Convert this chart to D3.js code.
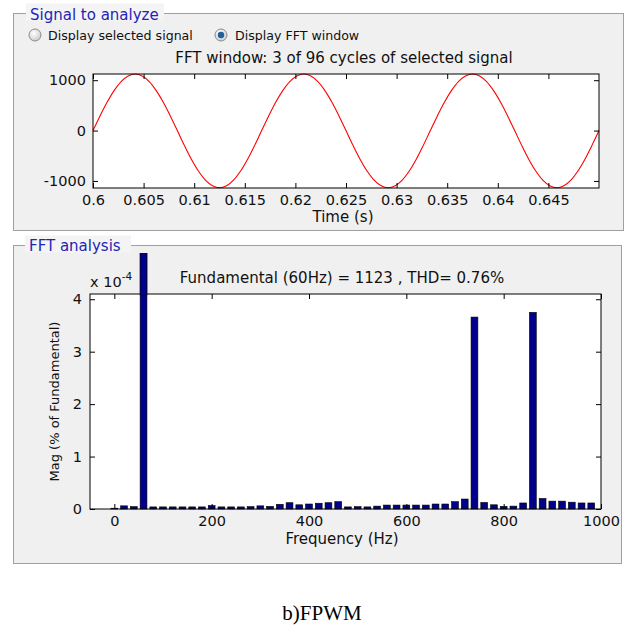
<!DOCTYPE html>
<html>
<head>
<meta charset="utf-8">
<script src="https://cdn.jsdelivr.net/npm/d3@7"></script>
<style>
  html, body { margin: 0; padding: 0; background: #ffffff; }
  svg { display: block; }
</style>
</head>
<body>
<svg id="chart" width="626" height="625"></svg>
<script>
// ---------------- DATA ----------------
// Top panel: FFT window signal (3 cycles, 60 Hz), samples every 1/1440 s starting at 0.6 s
const signalStart = 0.6;
const signalStep = 1 / 1440;
const signalValues = [
  0, 291, 562, 794, 973, 1085, 1123, 1085, 973, 794, 562, 291,
  0, -294, -568, -803, -983, -1096, -1135, -1096, -983, -803, -568, -294,
  0, 291, 562, 794, 973, 1085, 1123, 1085, 973, 794, 562, 291,
  0, -294, -568, -803, -983, -1096, -1135, -1096, -983, -803, -568, -294,
  0, 291, 562, 794, 973, 1085, 1123, 1085, 973, 794, 562, 291,
  0, -294, -568, -803, -983, -1096, -1135, -1096, -983, -803, -568, -294,
  0
];
const timeTicks = [0.6, 0.605, 0.61, 0.615, 0.62, 0.625, 0.63, 0.635, 0.64, 0.645];
const timeTickLabels = ["0.6", "0.605", "0.61", "0.615", "0.62", "0.625", "0.63", "0.635", "0.64", "0.645"];
const signalTicks = [-1000, 0, 1000];
const signalTickLabels = ["-1000", "0", "1000"];

// Bottom panel: FFT spectrum (x 10^-4, % of fundamental)
const freqs = [
  0, 20, 40, 60, 80, 100, 120, 140, 160, 180,
  200, 220, 240, 260, 280, 300, 320, 340, 360, 380,
  400, 420, 440, 460, 480, 500, 520, 540, 560, 580,
  600, 620, 640, 660, 680, 700, 720, 740, 760, 780,
  800, 820, 840, 860, 880, 900, 920, 940, 960, 980
];
const mags = [
  0.015, 0.06, 0.045, 4.87, 0.04, 0.04, 0.04, 0.04, 0.04, 0.04,
  0.065, 0.04, 0.04, 0.04, 0.045, 0.06, 0.05, 0.09, 0.12, 0.08,
  0.095, 0.11, 0.12, 0.14, 0.04, 0.045, 0.04, 0.055, 0.075, 0.075,
  0.075, 0.075, 0.075, 0.095, 0.095, 0.14, 0.19, 3.66, 0.125, 0.08,
  0.05, 0.055, 0.115, 3.75, 0.2, 0.15, 0.15, 0.13, 0.115, 0.115
];
const freqTicks = [0, 200, 400, 600, 800, 1000];
const freqTickLabels = ["0", "200", "400", "600", "800", "1000"];
const magTicks = [0, 1, 2, 3, 4];
const magTickLabels = ["0", "1", "2", "3", "4"];

const texts = {
  panel1: "Signal to analyze",
  radio1: "Display selected signal",
  radio2: "Display FFT window",
  title1: "FFT window: 3 of 96 cycles of selected signal",
  xlabel1: "Time (s)",
  panel2: "FFT analysis",
  title2: "Fundamental (60Hz) = 1123 , THD= 0.76%",
  xlabel2: "Frequency (Hz)",
  ylabel2: "Mag (% of Fundamental)",
  caption: "b)FPWM"
};

// ---------------- DRAW ----------------
const svg = d3.select("#chart");
const FONT = "DejaVu Sans, Verdana, sans-serif";
const BLUE = "#1f24b4";

// Panels
function panel(x0, y0, x1, y1, label, lx, lw, ly) {
  svg.append("rect").attr("x", x0).attr("y", y0).attr("width", x1 - x0).attr("height", y1 - y0)
    .attr("fill", "#f0f0f0").attr("stroke", "#a0a0a0").attr("stroke-width", 1);
  svg.append("rect").attr("x", lx - 4).attr("y", y0 - 10).attr("width", lw + 8).attr("height", 17)
    .attr("fill", "#f4f4f4");
  svg.append("text").attr("x", lx).attr("y", ly).attr("fill", BLUE)
    .attr("font-family", FONT).attr("font-size", 15).text(label);
}
panel(13.5, 13.5, 623.5, 230.5, texts.panel1, 30, 130, 20);
panel(13.5, 245.5, 621.5, 563.5, texts.panel2, 29, 98, 251);

// Radio buttons
const defs = svg.append("defs");
const rg = defs.append("radialGradient").attr("id", "rg").attr("cx", "40%").attr("cy", "35%").attr("r", "70%");
rg.append("stop").attr("offset", "0%").attr("stop-color", "#ffffff");
rg.append("stop").attr("offset", "100%").attr("stop-color", "#c8c8c8");
function radio(cx, cy, checked, label, tx) {
  svg.append("circle").attr("cx", cx).attr("cy", cy).attr("r", 6)
    .attr("fill", "url(#rg)").attr("stroke", "#8c8c8c").attr("stroke-width", 1);
  if (checked) {
    svg.append("circle").attr("cx", cx).attr("cy", cy).attr("r", 3.2).attr("fill", "#1f5f9a");
  }
  svg.append("text").attr("x", tx).attr("y", cy + 4.5).attr("fill", "#111")
    .attr("font-family", FONT).attr("font-size", 12.6).text(label);
}
radio(35, 35, false, texts.radio1, 48);
radio(221, 35, true, texts.radio2, 235);

// ---------- Top plot ----------
const p1 = { l: 93, r: 599, t: 74, b: 188 };
const x1 = d3.scaleLinear().domain([0.6, 0.65]).range([p1.l, p1.r]);
const y1 = d3.scaleLinear().domain([-1140, 1123]).range([p1.b, p1.t]);

svg.append("rect").attr("x", p1.l).attr("y", p1.t).attr("width", p1.r - p1.l).attr("height", p1.b - p1.t)
  .attr("fill", "#fff");

const line1 = d3.line()
  .x((d, i) => x1(signalStart + i * signalStep))
  .y(d => y1(d))
  .curve(d3.curveCatmullRom);
svg.append("path").datum(signalValues).attr("d", line1)
  .attr("fill", "none").attr("stroke", "#ff0000").attr("stroke-width", 1.1);

function styleAxis(g, size) {
  g.select(".domain").remove();
  g.selectAll(".tick line").attr("stroke", "#000");
  g.selectAll(".tick text").attr("font-family", FONT).attr("font-size", size).attr("fill", "#111");
}

// bottom x axis
svg.append("g").attr("transform", `translate(0,${p1.b})`)
  .call(d3.axisBottom(x1).tickValues(timeTicks).tickFormat((d, i) => timeTickLabels[i])
    .tickSizeInner(-5).tickSizeOuter(0).tickPadding(7))
  .call(g => styleAxis(g, 14.5));
// top x ticks
svg.append("g").attr("transform", `translate(0,${p1.t})`)
  .call(d3.axisTop(x1).tickValues(timeTicks).tickFormat("").tickSizeInner(-5).tickSizeOuter(0))
  .call(g => styleAxis(g, 14.5));
// left y
svg.append("g").attr("transform", `translate(${p1.l},0)`)
  .call(d3.axisLeft(y1).tickValues(signalTicks).tickFormat((d, i) => signalTickLabels[i])
    .tickSizeInner(-5).tickSizeOuter(0).tickPadding(7))
  .call(g => styleAxis(g, 14.5));
// right y
svg.append("g").attr("transform", `translate(${p1.r},0)`)
  .call(d3.axisRight(y1).tickValues(signalTicks).tickFormat("").tickSizeInner(-5).tickSizeOuter(0))
  .call(g => styleAxis(g, 14.5));

svg.append("rect").attr("x", p1.l).attr("y", p1.t).attr("width", p1.r - p1.l).attr("height", p1.b - p1.t)
  .attr("fill", "none").attr("stroke", "#000").attr("stroke-width", 1);

svg.append("text").attr("x", (p1.l + p1.r) / 2 - 2).attr("y", 63).attr("text-anchor", "middle")
  .attr("font-family", FONT).attr("font-size", 15).attr("fill", "#111").text(texts.title1);
svg.append("text").attr("x", (p1.l + p1.r) / 2 - 3).attr("y", 222).attr("text-anchor", "middle")
  .attr("font-family", FONT).attr("font-size", 15).attr("fill", "#111").text(texts.xlabel1);

// ---------- Bottom plot ----------
const p2 = { l: 90, r: 601, t: 294, b: 509 };
const x2 = d3.scaleLinear().domain([-50, 1000]).range([p2.l, p2.r]);
const y2 = d3.scaleLinear().domain([0, 4.1]).range([p2.b, p2.t]);

svg.append("rect").attr("x", p2.l).attr("y", p2.t).attr("width", p2.r - p2.l).attr("height", p2.b - p2.t)
  .attr("fill", "#fff");

const bw = x2(14) - x2(0);
svg.append("g").selectAll("rect").data(freqs).join("rect")
  .attr("x", d => x2(d) - bw / 2)
  .attr("width", bw)
  .attr("y", (d, i) => y2(mags[i]))
  .attr("height", (d, i) => y2(0) - y2(mags[i]))
  .attr("fill", "#00008c").attr("stroke", "#000").attr("stroke-width", 0.6);

svg.append("g").attr("transform", `translate(0,${p2.b})`)
  .call(d3.axisBottom(x2).tickValues(freqTicks).tickFormat((d, i) => freqTickLabels[i])
    .tickSizeInner(-5).tickSizeOuter(0).tickPadding(7))
  .call(g => styleAxis(g, 14.5));
svg.append("g").attr("transform", `translate(0,${p2.t})`)
  .call(d3.axisTop(x2).tickValues(freqTicks).tickFormat("").tickSizeInner(-5).tickSizeOuter(0))
  .call(g => styleAxis(g, 14.5));
svg.append("g").attr("transform", `translate(${p2.l},0)`)
  .call(d3.axisLeft(y2).tickValues(magTicks).tickFormat((d, i) => magTickLabels[i])
    .tickSizeInner(-5).tickSizeOuter(0).tickPadding(8))
  .call(g => styleAxis(g, 14.5));
svg.append("g").attr("transform", `translate(${p2.r},0)`)
  .call(d3.axisRight(y2).tickValues(magTicks).tickFormat("").tickSizeInner(-5).tickSizeOuter(0))
  .call(g => styleAxis(g, 14.5));

svg.append("rect").attr("x", p2.l).attr("y", p2.t).attr("width", p2.r - p2.l).attr("height", p2.b - p2.t)
  .attr("fill", "none").attr("stroke", "#000").attr("stroke-width", 1);

// fundamental bar drawn on top of the frame (extends above axes)
svg.append("g").selectAll("rect").data(freqs.filter((d, i) => mags[i] > 4.1)).join("rect")
  .attr("x", d => x2(d) - bw / 2)
  .attr("width", bw)
  .attr("y", d => y2(mags[freqs.indexOf(d)]))
  .attr("height", d => y2(4.1) - y2(mags[freqs.indexOf(d)]) + 1)
  .attr("fill", "#00008c").attr("stroke", "#000").attr("stroke-width", 0.6);

// exponent
const ex = svg.append("text").attr("x", 90).attr("y", 287)
  .attr("font-family", FONT).attr("font-size", 14.5).attr("fill", "#111");
ex.append("tspan").text("x 10");
ex.append("tspan").attr("dy", -7).attr("font-size", 10.5).text("-4");

svg.append("text").attr("x", 342).attr("y", 283).attr("text-anchor", "middle")
  .attr("font-family", FONT).attr("font-size", 15).attr("fill", "#111").text(texts.title2);
svg.append("text").attr("x", 342).attr("y", 544).attr("text-anchor", "middle")
  .attr("font-family", FONT).attr("font-size", 15).attr("fill", "#111").text(texts.xlabel2);
svg.append("text").attr("transform", `translate(59,${(p2.t + p2.b) / 2}) rotate(-90)`)
  .attr("text-anchor", "middle")
  .attr("font-family", FONT).attr("font-size", 13).attr("fill", "#111").text(texts.ylabel2);

// caption
svg.append("text").attr("x", 322).attr("y", 620).attr("text-anchor", "middle")
  .attr("font-family", "Liberation Serif, Times New Roman, serif").attr("font-size", 21)
  .attr("fill", "#000").text(texts.caption);
</script>
</body>
</html>
